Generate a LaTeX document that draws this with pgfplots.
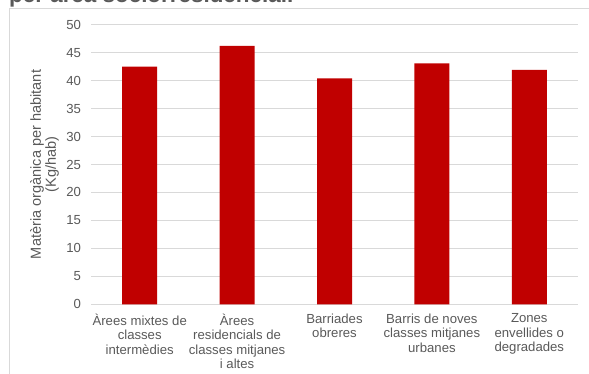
\documentclass[border=0pt]{standalone}
\usepackage{pgfplots}
\pgfplotsset{compat=1.18}
\usepackage{fontspec}
\setmainfont{Liberation Sans}
\definecolor{barred}{HTML}{C00000}
\definecolor{txtgray}{HTML}{595959}
\definecolor{gridgray}{HTML}{D9D9D9}
\definecolor{titlegray}{HTML}{595959}
\begin{document}
\begin{tikzpicture}
\useasboundingbox (0,0) rectangle (589bp,374bp);
% chart frame
\draw[gridgray, line width=0.8bp] (9bp,-5bp) -- (9bp,366bp) -- (600bp,366bp);
% cut-off title
\node[anchor=base west, inner sep=0pt, font=\fontsize{22.5}{26}\selectfont\bfseries, text=titlegray] at (9bp,371bp) {per àrea sociorresidencial.};
\begin{axis}[
  at={(91bp,69.7bp)}, anchor=south west,
  scale only axis,
  width=487bp, height=279.6bp,
  xmin=-0.5, xmax=4.5,
  ymin=0, ymax=50,
  ytick={0,5,...,50},
  xtick={0,1,2,3,4},
  xticklabels={{Àrees mixtes de\\classes\\intermèdies},{Àrees\\residencials de\\classes mitjanes\\i altes},{Barriades\\obreres},{Barris de noves\\classes mitjanes\\urbanes},{Zones\\envellides o\\degradades}},
  /pgf/number format/assume math mode=true,
  tick label style={font=\fontsize{13.2}{14.5}\selectfont, text=txtgray},
  xticklabel style={align=center, yshift=-6bp},
  yticklabel style={xshift=-6.5bp},
  major tick length=0pt,
  ymajorgrids,
  grid style={gridgray, line width=0.8bp},
  axis line style={draw=none},
  ylabel={Matèria orgànica per habitant\\(Kg/hab)},
  ylabel style={at={(axis description cs:-0.0955,0.5)}, anchor=center, align=center, font=\fontsize{14.6}{15}\selectfont, text=txtgray},
  bar width=35bp,
  clip=false,
]
\draw[gridgray, line width=0.9bp] (axis cs:-0.5,0) -- (axis cs:4.5,0);
\addplot[ybar, fill=barred, draw=none] coordinates {(0,42.5) (1,46.2) (2,40.4) (3,43.1) (4,41.9)};
\end{axis}
\end{tikzpicture}
\end{document}
